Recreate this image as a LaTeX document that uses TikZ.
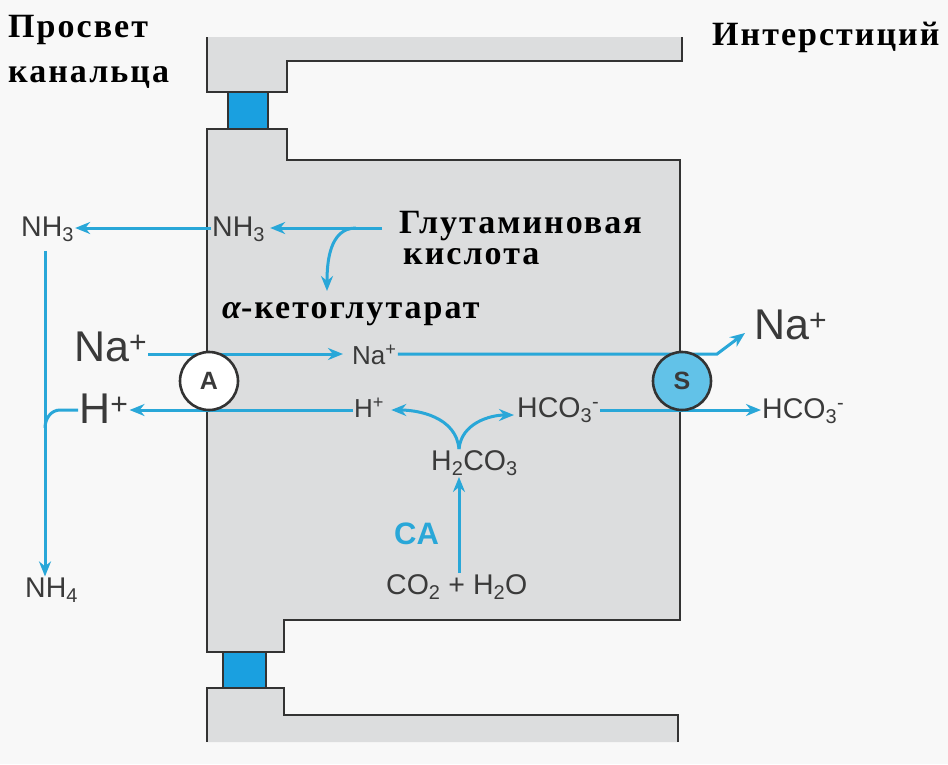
\documentclass[tikz,border=0pt]{standalone}
\usepackage{fontspec}
\setmainfont{Liberation Serif}[LetterSpace=6]
\setsansfont{Liberation Sans}
\usetikzlibrary{arrows.meta}
\definecolor{arr}{HTML}{29A7D8}
\definecolor{bg}{HTML}{F8F8F8}
\definecolor{cellg}{HTML}{DCDDDE}
\definecolor{wallc}{HTML}{333333}
\definecolor{juncc}{HTML}{1AA0E0}
\definecolor{sfill}{HTML}{62C2E8}
\definecolor{txt}{HTML}{3A3A3A}
\tikzset{
  wall/.style={draw=wallc, line width=2.6pt, line join=miter},
  junc/.style={draw=wallc, fill=juncc, line width=2.2pt},
  lbl/.style={font=\sffamily\fontsize{28.5}{30}\selectfont, text=txt, inner sep=1pt, anchor=west},
  slbl/.style={font=\sffamily\fontsize{26}{28}\selectfont, text=txt, inner sep=1pt, anchor=west},
  blbl/.style={font=\sffamily\fontsize{43}{46}\selectfont, text=txt, inner sep=1pt, anchor=west},
  ser/.style={font=\bfseries\fontsize{34}{36}\selectfont, text=black, inner sep=0pt, anchor=base west},
  flow/.style={draw=arr, line width=3pt, -{Stealth[length=15pt,width=12pt]}},
  flowline/.style={draw=arr, line width=3pt},
  circ/.style={circle, draw=wallc, line width=2.6pt, minimum size=58pt, inner sep=0pt,
    font=\sffamily\bfseries\fontsize{25}{27}\selectfont, text=txt},
}
\begin{document}
\begin{tikzpicture}[x=1pt,y=-1pt]
\useasboundingbox (0,0) rectangle (948,764);
\fill[bg] (0,0) rectangle (948,764);
% top fragment
\fill[cellg] (207,37) -- (682,37) -- (682,61) -- (287,61) -- (287,92) -- (207,92) -- cycle;
\draw[wall] (207,37) -- (207,92) -- (287,92) -- (287,61) -- (682,61) -- (682,37);
\draw[junc] (228,92) rectangle (268,129);
% main cell
\draw[wall, fill=cellg] (207,129) -- (287,129) -- (287,160) -- (680,160) -- (680,620) -- (284,620) -- (284,652) -- (207,652) -- cycle;
% bottom fragment
\draw[junc] (223,652) rectangle (266,688);
\fill[cellg] (207,688) -- (284,688) -- (284,715) -- (678,715) -- (678,742) -- (207,742) -- cycle;
\draw[wall] (207,742) -- (207,688) -- (284,688) -- (284,715) -- (678,715) -- (678,742);

% serif labels
\node[ser] (lum1) at (8,37) {Просвет};
\node[ser] (lum2) at (8,82) {канальца};
\node[ser] (inter) at (712,45) {Интерстиций};
\node[ser, anchor=north west, align=left, font=\bfseries\fontsize{34}{31}\selectfont]
  (glu) at (399,211) {Глутаминовая\\\hspace*{4pt}кислота};
\node[ser] (akg) at (222,318) {{\itshape α}-кетоглутарат};

% sans labels
\node[lbl] (nh3L) at (20,229) {NH\textsubscript{3}};
\node[lbl] (nh3I) at (211,229) {NH\textsubscript{3}};
\node[blbl] (naL) at (73,347) {Na\textsuperscript{+}};
\node[blbl] (hL) at (78,409) {H\textsuperscript{+}};
\node[slbl] (naI) at (351,355) {Na\textsuperscript{+}};
\node[slbl] (hI) at (353,408) {H\textsuperscript{+}};
\node[lbl] (hco3I) at (516,410) {HCO\textsubscript{3}\textsuperscript{-}};
\node[blbl] (naR) at (753,325) {Na\textsuperscript{+}};
\node[lbl] (hco3R) at (761,411) {HCO\textsubscript{3}\textsuperscript{-}};
\node[lbl] (h2co3) at (430,463) {H\textsubscript{2}CO\textsubscript{3}};
\node[lbl, font=\sffamily\bfseries\fontsize{31}{33}\selectfont, text=arr] (ca) at (393,534) {CA};
\node[lbl] (co2) at (385,587) {CO\textsubscript{2} + H\textsubscript{2}O};
\node[lbl] (nh4) at (24,590) {NH\textsubscript{4}};

% helper coordinates
\coordinate (vx) at (45,0);
\coordinate (fx) at (459,0);
\coordinate (nY) at (0,228);
\coordinate (naY) at (0,354);
\coordinate (hY) at (0,410);
\coordinate (gs) at (382,228);
\coordinate (gb) at (356,228);
\coordinate (akgTip) at (327,291);
\coordinate (naBend) at (717,354);
\coordinate (naTip) at (745,333);
\coordinate (hBend) at (60,410);
\coordinate (hJoin) at (45,428);

% connectors
\draw[flow] (nh3I.west |- nY) -- (nh3L.east |- nY);
\draw[flow, shorten >=4pt] (gs) -- (nh3I.east |- nY);
\draw[flow] (gb) to[out=180,in=90] (akgTip);
\draw[flow, shorten <=8pt] (vx |- nh3L.south) -- (vx |- nh4.north);
\draw[flowline] (hL.west |- hY) -- (hBend) to[out=180,in=90] (hJoin);
\draw[flow, shorten >=8pt] (naL.east |- naY) -- (naI.west |- naY);
\draw[flow] (naI.east |- naY) -- (naBend) -- (naTip);
\draw[flow] (hI.west |- hY) -- (hL.east |- hY);
\draw[flow] (hco3I.east |- hY) -- (hco3R.west |- hY);
\draw[flow, shorten >=6pt] (fx |- h2co3.north) to[out=95,in=0] (hI.east |- hY);
\draw[flow, shorten >=2pt] (fx |- h2co3.north) to[out=85,in=180] ([yshift=-5pt]hco3I.west);
\draw[flow] (fx |- co2.north) -- (fx |- h2co3.south);

% transporters
\node[circ, fill=white] (A) at (209,381) {A};
\node[circ, fill=sfill] (S) at (682,381) {S};
\end{tikzpicture}
\end{document}
